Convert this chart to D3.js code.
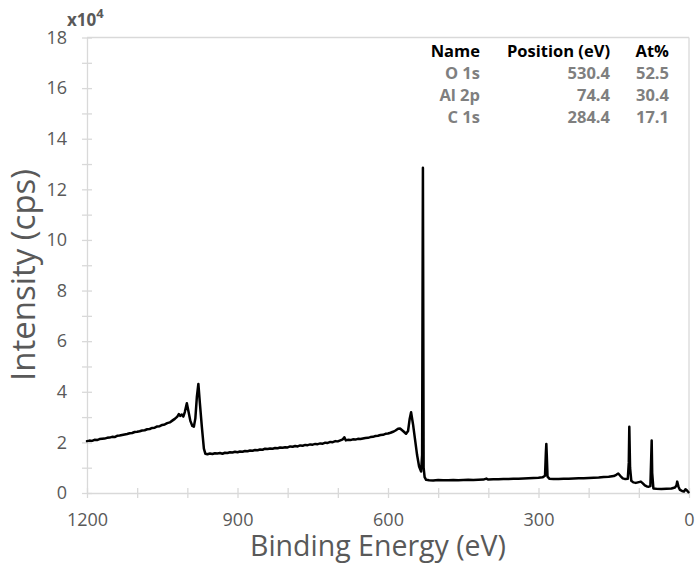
<!DOCTYPE html>
<html>
<head>
<meta charset="utf-8">
<script src="https://cdn.jsdelivr.net/npm/d3@7/dist/d3.min.js"></script>
<style>
  html, body { margin: 0; padding: 0; background: #fff; }
  svg { display: block; }
  text { font-family: "Open Sans", sans-serif; }
</style>
</head>
<body>
<svg id="chart" width="697" height="565"></svg>
<script>
// ---- Data: binding energy (eV) and intensity (units of 10^4 cps) ----
// High-BE background and O KLL Auger region
const energyAuger = [1200,1195,1190,1185,1180,1175,1170,1165,1160,1155,1150,1145,1140,1135,1130,1125,1120,1115,1110,1105,1100,1095,1090,1085,1080,1075,1070,1065,1060,1055,1050,1045,1040,1035,1030,1025,1020,1017,1014,1011,1008,1005,1001,998,994,990,987,984,981,978,975,971,967,964];
const intensityAuger = [2.05,2.07,2.06,2.10,2.09,2.13,2.14,2.15,2.18,2.19,2.22,2.21,2.26,2.27,2.29,2.31,2.33,2.36,2.37,2.41,2.42,2.44,2.47,2.48,2.52,2.53,2.57,2.58,2.63,2.64,2.69,2.71,2.76,2.79,2.86,2.93,3.02,3.12,3.05,3.10,3.02,3.20,3.55,3.25,2.85,2.65,2.62,2.95,3.80,4.31,3.55,2.60,1.75,1.55];
// Mid-BE background
const energyMid = [960,955,950,945,940,935,930,925,920,915,910,905,900,895,890,885,880,875,870,865,860,855,850,845,840,835,830,825,820,815,810,805,800,795,790,785,780,775,770,765,760,755,750,745,740,735,730,725,720,715,710,705,700,695,690,687,684,680,675,670,665,660,655,650,645,640,635,630,625,620,615,610,605,600,595,590,585,580];
const intensityMid = [1.53,1.56,1.54,1.57,1.56,1.58,1.55,1.59,1.58,1.61,1.60,1.63,1.61,1.64,1.63,1.66,1.65,1.68,1.67,1.70,1.69,1.72,1.71,1.75,1.74,1.76,1.75,1.78,1.77,1.80,1.79,1.81,1.80,1.84,1.83,1.86,1.84,1.88,1.87,1.90,1.89,1.92,1.91,1.94,1.93,1.96,1.95,1.99,1.98,2.02,2.01,2.05,2.04,2.08,2.12,2.20,2.08,2.10,2.09,2.12,2.11,2.14,2.13,2.15,2.17,2.18,2.21,2.22,2.25,2.26,2.29,2.30,2.34,2.35,2.38,2.42,2.47,2.54];
// O 1s region
const energyO1s = [576,570,564,560,557,554,550,546,542,538,534,532,530.4,529,527,524];
const intensityO1s = [2.55,2.45,2.34,2.45,2.90,3.19,2.70,2.10,1.50,1.05,0.85,1.50,12.85,1.00,0.63,0.52];
// Low-BE region (C 1s, Al 2s, Al 2p, O 2s)
const energyLow = [518,510,500,490,480,470,460,450,440,430,420,410,404,400,390,380,370,360,350,340,330,320,310,300,292,287,285.3,284.4,283.5,282,278,270,260,250,240,230,220,210,200,190,180,170,160,150,145,141,137,132,127,122,120,119,117.5,115,111,106,100,96,92,88,84,80,77,75.2,74.4,73.4,71,65,55,45,35,28,25,23.5,21,18,14,10,7,4,1];
const intensityLow = [0.50,0.49,0.51,0.50,0.50,0.51,0.50,0.51,0.52,0.51,0.52,0.53,0.57,0.53,0.54,0.54,0.55,0.55,0.56,0.56,0.57,0.58,0.59,0.60,0.62,0.68,1.60,1.94,1.50,0.65,0.56,0.55,0.55,0.56,0.56,0.57,0.58,0.58,0.59,0.60,0.61,0.63,0.64,0.67,0.72,0.77,0.68,0.58,0.55,0.56,1.20,2.62,1.00,0.48,0.42,0.40,0.43,0.45,0.38,0.30,0.26,0.25,0.27,1.50,2.07,0.80,0.18,0.17,0.16,0.17,0.18,0.22,0.30,0.45,0.25,0.12,0.08,0.06,0.15,0.10,0.03];

const xTickValues = [1200,1100,1000,900,800,700,600,500,400,300,200,100,0];
const xTickLabels = [1200,900,600,300,0];
const yTickValues = [0,1,2,3,4,5,6,7,8,9,10,11,12,13,14,15,16,17,18];
const yTickLabels = [0,2,4,6,8,10,12,14,16,18];

const peakNames = ["O 1s","Al 2p","C 1s"];
const peakPositions = ["530.4","74.4","284.4"];
const peakAtPercent = ["52.5","30.4","17.1"];
const tableHeaders = ["Name","Position (eV)","At%"];

(function () {
const svg = d3.select("#chart");
const pLeft = 87, pRight = 689, pTop = 37.5, pBottom = 493;
const axisColor = "#d9d9d9";
const textColor = "#595959";

const x = d3.scaleLinear().domain([1200, 0]).range([pLeft, pRight]);
const y = d3.scaleLinear().domain([0, 18]).range([pBottom, pTop]);

// Plot border (top and right)
svg.append("line").attr("x1", pLeft).attr("x2", pRight).attr("y1", pTop).attr("y2", pTop)
  .attr("stroke", axisColor).attr("stroke-width", 1.3);
svg.append("line").attr("x1", pRight).attr("x2", pRight).attr("y1", pTop).attr("y2", pBottom)
  .attr("stroke", axisColor).attr("stroke-width", 1.3);

// X axis
const xAxis = d3.axisBottom(x).tickValues(xTickValues).tickSizeInner(5).tickSizeOuter(0)
  .tickFormat(d => xTickLabels.includes(d) ? d : "");
const gx = svg.append("g").attr("transform", `translate(0,${pBottom})`).call(xAxis);
gx.select(".domain").attr("stroke", axisColor).attr("stroke-width", 1.3);
gx.selectAll(".tick line").attr("stroke", axisColor).attr("stroke-width", 1.3).attr("y1", -5).attr("y2", 5);
gx.selectAll(".tick text").attr("fill", textColor).attr("font-size", 18)
  .attr("font-family", "Open Sans, sans-serif").attr("y", 20);

// Y axis
const yAxis = d3.axisLeft(y).tickValues(yTickValues).tickSizeInner(5).tickSizeOuter(0)
  .tickFormat(d => yTickLabels.includes(d) ? d : "");
const gy = svg.append("g").attr("transform", `translate(${pLeft},0)`).call(yAxis);
gy.select(".domain").attr("stroke", axisColor).attr("stroke-width", 1.3);
gy.selectAll(".tick line").attr("stroke", axisColor).attr("stroke-width", 1.3).attr("x1", -5).attr("x2", 5);
gy.selectAll(".tick text").attr("fill", textColor).attr("font-size", 18)
  .attr("font-family", "Open Sans, sans-serif").attr("x", -20);

// Multiplier label
const mult = svg.append("text").attr("x", 67).attr("y", 26).attr("fill", textColor)
  .attr("font-size", 17).attr("font-weight", "bold");
mult.append("tspan").text("x10");
mult.append("tspan").attr("font-size", 13).attr("dy", -8).text("4");

// Axis titles
svg.append("text").attr("x", 378).attr("y", 556).attr("text-anchor", "middle")
  .attr("fill", textColor).attr("font-size", 28.5).text("Binding Energy (eV)");
svg.append("text").attr("transform", "translate(35,275) rotate(-90)").attr("text-anchor", "middle")
  .attr("fill", textColor).attr("font-size", 33).text("Intensity (cps)");

// Spectrum line
const energies = energyAuger.concat(energyMid, energyO1s, energyLow);
const counts = intensityAuger.concat(intensityMid, intensityO1s, intensityLow);
const data = energies.map((be, i) => ({be, v: counts[i]}));
const line = d3.line().x(d => x(d.be)).y(d => y(d.v));
svg.append("path").datum(data).attr("d", line)
  .attr("fill", "none").attr("stroke", "#000").attr("stroke-width", 2.5)
  .attr("stroke-linejoin", "round").attr("stroke-linecap", "round");

// Quantification table
const colRight = [480, 610, 669];
const rowY = [57, 79, 101, 123];
const table = svg.append("g").attr("font-weight", "bold").attr("font-size", 16.5);
tableHeaders.forEach((h, j) => {
  table.append("text").attr("x", colRight[j]).attr("y", rowY[0]).attr("text-anchor", "end")
    .attr("fill", "#000").text(h);
});
peakNames.forEach((n, i) => {
  [n, peakPositions[i], peakAtPercent[i]].forEach((t, j) => {
    table.append("text").attr("x", colRight[j]).attr("y", rowY[i + 1]).attr("text-anchor", "end")
      .attr("fill", "#7f7f7f").text(t);
  });
});
})();
</script>
</body>
</html>
